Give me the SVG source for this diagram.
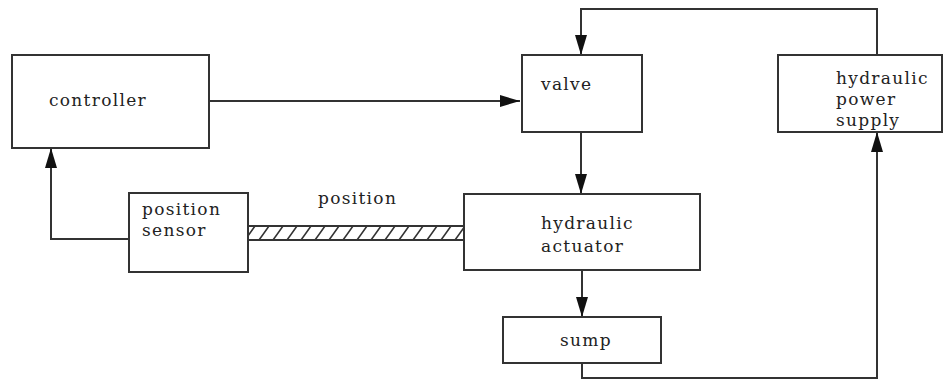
<svg xmlns="http://www.w3.org/2000/svg" width="945" height="380" viewBox="0 0 945 380">
<style>
.box{fill:#fff;stroke:#333;stroke-width:2}
.t{font-family:"DejaVu Serif","Liberation Serif",serif;font-size:17px;letter-spacing:1.3px;fill:#222}
.ln{fill:none;stroke:#333;stroke-width:2}
</style>
<defs>
<marker id="ah" markerWidth="20" markerHeight="12" refX="20" refY="6" orient="auto" markerUnits="userSpaceOnUse">
<path d="M0,0 L20,6 L0,12 Z" fill="#111"/>
</marker>
<pattern id="hatch" width="14" height="14" patternUnits="userSpaceOnUse" x="248" y="226">
<rect width="14" height="14" fill="#fff"/>
<path d="M-3,14 L7,0 M11,14 L21,0" stroke="#333" stroke-width="1.6"/>
</pattern>
</defs>
<rect width="945" height="380" fill="#fff"/>
<g id="connectors">
<path class="ln" d="M209,101 H520" marker-end="url(#ah)"/>
<path class="ln" d="M877,55 V9 H581 V55" marker-end="url(#ah)"/>
<path class="ln" d="M581,132 V194" marker-end="url(#ah)"/>
<path class="ln" d="M582,270 V317" marker-end="url(#ah)"/>
<path class="ln" d="M582,363 V378 H877 V132" marker-end="url(#ah)"/>
<path class="ln" d="M129,239 H51 V148" marker-end="url(#ah)"/>
<rect id="rod" x="248" y="226" width="216" height="14" fill="url(#hatch)" stroke="#333" stroke-width="2"/>
<text class="t" x="318" y="204">position</text>
</g>
<g id="controller">
<rect class="box" x="12" y="55" width="197" height="93"/>
<text class="t" x="49" y="106">controller</text>
</g>
<g id="valve">
<rect class="box" x="522" y="55" width="120" height="77"/>
<text class="t" x="541" y="90">valve</text>
</g>
<g id="power-supply">
<rect class="box" x="778" y="55" width="164" height="77"/>
<text class="t" x="836" y="84">hydraulic</text>
<text class="t" x="836" y="105">power</text>
<text class="t" x="836" y="126">supply</text>
</g>
<g id="position-sensor">
<rect class="box" x="129" y="193" width="119" height="79"/>
<text class="t" x="142" y="215">position</text>
<text class="t" x="142" y="236">sensor</text>
</g>
<g id="actuator">
<rect class="box" x="464" y="194" width="236" height="76"/>
<text class="t" x="541" y="229">hydraulic</text>
<text class="t" x="541" y="252">actuator</text>
</g>
<g id="sump">
<rect class="box" x="503" y="317" width="158" height="46"/>
<text class="t" x="560" y="346">sump</text>
</g>
</svg>
